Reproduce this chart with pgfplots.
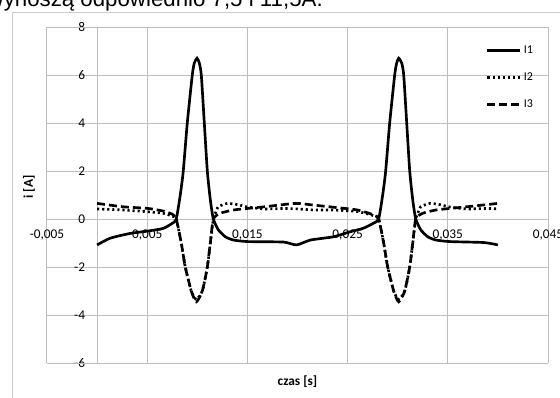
\documentclass[border=0pt]{standalone}
\usepackage{fontspec}
\setmainfont{Carlito}
\newfontfamily\arialfont{Liberation Sans}
\usepackage{pgfplots}
\pgfplotsset{compat=1.18}
\definecolor{gridgray}{RGB}{190,190,190}
\definecolor{bordergray}{RGB}{205,205,205}

\begin{document}
\begin{tikzpicture}
\useasboundingbox (0,0) rectangle (420pt,-297.75pt);
\clip (0,0) rectangle (420pt,-297.75pt);
\node[anchor=base east, inner sep=0pt, font=\arialfont\fontsize{16.7}{18}\selectfont] at (242.25pt,-5.2pt) {wynoszą odpowiednio 7,5 i 11,5A.};
\draw[bordergray, line width=0.75pt] (9pt,-320pt) -- (9pt,-9pt) -- (450pt,-9pt);
\begin{axis}[
  at={(35.25pt,-272.25pt)}, anchor=south west,
  scale only axis, width=375.75pt, height=252pt,
  xmin=-0.005, xmax=0.045, ymin=-6, ymax=8,
  axis x line=middle, axis y line=middle,
  axis line style={draw=gridgray, line width=0.75pt, -},
  every inner x axis line/.append style={-},
  every inner y axis line/.append style={-},
  xtick={-0.005,0.005,0.015,0.025,0.035,0.045},
  ytick={-6,-4,...,8},
  hide obscured x ticks=false, hide obscured y ticks=false,
  major tick length=0pt,
  grid=major, grid style={draw=gridgray, line width=0.75pt},
  scaled x ticks=false,
  /pgf/number format/assume math mode=true,
  tick label style={font=\fontsize{10}{11}\selectfont, text=black},
  xticklabel style={/pgf/number format/.cd, fixed, fixed zerofill, precision=3, use comma, /tikz/.cd, anchor=north, yshift=-4.5pt},
  yticklabel style={anchor=east, xshift=-5.5pt},
  xlabel={czas [s]}, ylabel={i [A]},
  xlabel style={at={(axis description cs:0.5,-0.0565)}, anchor=center, font=\bfseries\fontsize{10}{11}\selectfont},
  ylabel style={at={(axis description cs:-0.036,0.524)}, anchor=center, rotate=90, font=\bfseries\fontsize{10}{11}\selectfont},
  legend style={draw=none, fill=none, at={(rel axis cs:0.876,0.952)}, anchor=north west, inner sep=0pt, row sep=10pt, font=\fontsize{9}{10}\selectfont, nodes={inner sep=1.5pt}},
  legend cell align=left,
  legend image code/.code={\draw[#1] (0pt,0pt) -- (24.75pt,0pt);},
]
\draw[draw=gridgray, line width=0.75pt] (rel axis cs:0,0) rectangle (rel axis cs:1,1);
\addplot[black, line width=2pt, smooth, tension=0.35] table {
0 -1.08
0.0013 -0.80
0.0033 -0.60
0.0051 -0.50
0.0066 -0.39
0.0075 -0.18
0.0079 0
0.0083 1.0
0.0086 2.0
0.0090 4.0
0.0095 6.0
0.0097 6.5
0.00997 6.7
0.0102 6.5
0.0104 6.0
0.0107 4.0
0.0110 2.0
0.0113 0.8
0.0116 0
0.0121 -0.45
0.0128 -0.74
0.0136 -0.875
0.0150 -0.94
0.0186 -0.96
0.0199 -1.08
0.0213 -0.875
0.0236 -0.74
0.0251 -0.55
0.0266 -0.38
0.0276 -0.17
0.0281 0
0.0285 1.0
0.0288 2.0
0.0292 4.0
0.0297 6.0
0.0299 6.5
0.0301 6.7
0.0304 6.5
0.0306 6.0
0.0309 4.0
0.0312 2.0
0.0315 0.8
0.0318 0
0.0323 -0.45
0.0330 -0.74
0.0338 -0.875
0.0352 -0.94
0.0386 -0.98
0.0400 -1.08
};
\addlegendentry{I1}
\addplot[black, line width=2pt, dash pattern=on 1.6pt off 2.2pt, smooth, tension=0.35] table {
0 0.42
0.0026 0.375
0.0051 0.30
0.0066 0.24
0.0075 0.12
0.0079 0
0.0084 -1.0
0.0088 -2.0
0.0094 -3.0
0.0099 -3.35
0.0105 -3.0
0.0110 -2.0
0.0113 -1.0
0.0116 0
0.0118 0.24
0.0121 0.51
0.0130 0.65
0.0140 0.60
0.0150 0.50
0.0167 0.42
0.0187 0.44
0.0200 0.42
0.0217 0.375
0.0236 0.375
0.0260 0.31
0.0276 0.14
0.0281 0
0.0286 -1.0
0.0290 -2.0
0.0296 -3.0
0.0301 -3.35
0.0307 -3.0
0.0312 -2.0
0.0315 -1.0
0.0318 0
0.0320 0.24
0.0323 0.51
0.0332 0.65
0.0342 0.60
0.0352 0.50
0.0369 0.42
0.0389 0.44
0.0400 0.42
};
\addlegendentry{I2}
\addplot[black, line width=2pt, dash pattern=on 6pt off 3pt, smooth, tension=0.35] table {
0 0.65
0.0026 0.51
0.0051 0.44
0.0066 0.33
0.0075 0.20
0.0079 0
0.0084 -1.0
0.0088 -2.0
0.0094 -3.0
0.0099 -3.45
0.0105 -3.0
0.0110 -2.0
0.0113 -1.0
0.0116 0
0.0123 0.24
0.0136 0.375
0.0150 0.44
0.0167 0.51
0.0198 0.65
0.0216 0.58
0.0236 0.49
0.0260 0.375
0.0276 0.17
0.0281 0
0.0286 -1.0
0.0290 -2.0
0.0296 -3.0
0.0301 -3.45
0.0307 -3.0
0.0312 -2.0
0.0315 -1.0
0.0318 0
0.0325 0.24
0.0338 0.375
0.0352 0.44
0.0369 0.51
0.0400 0.65
};
\addlegendentry{I3}
\end{axis}
\end{tikzpicture}
\end{document}
